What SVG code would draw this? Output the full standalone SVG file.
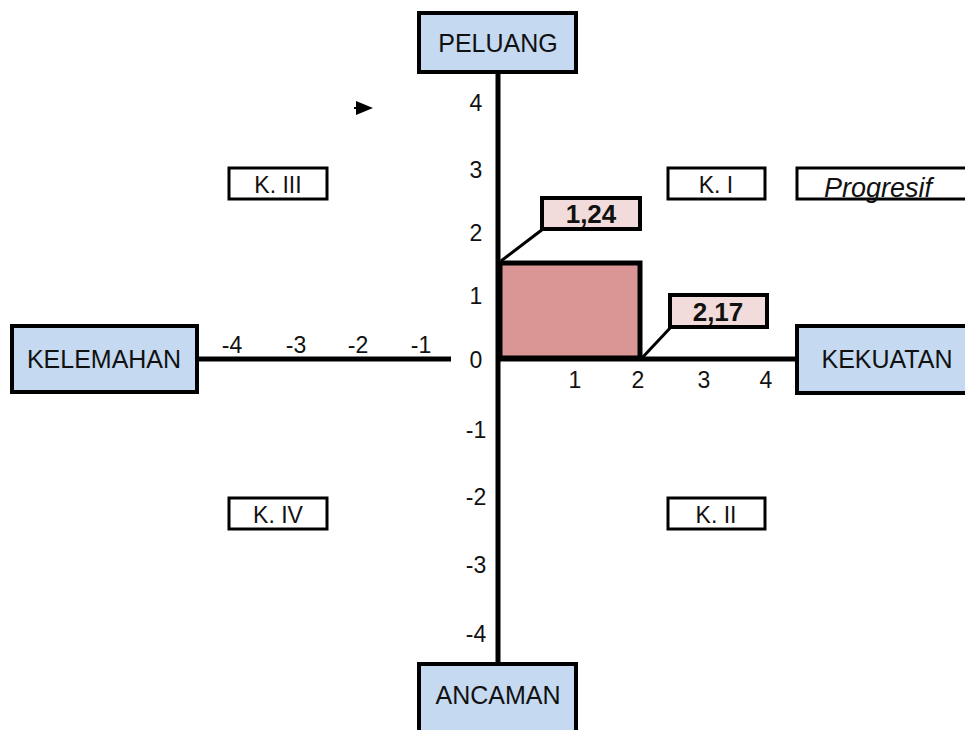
<svg xmlns="http://www.w3.org/2000/svg" width="965" height="730" viewBox="0 0 965 730">
<style>
.box{fill:#c5d9f1;stroke:#000;stroke-width:4}
.q{fill:#fff;stroke:#000;stroke-width:3}
.val{fill:#f2dcdb;stroke:#000;stroke-width:4}
.t{font-family:"Liberation Sans",Arial,sans-serif;font-size:25px;fill:#111;text-anchor:middle}
.n{font-family:"Liberation Sans",Arial,sans-serif;font-size:23px;fill:#111;text-anchor:middle}
.b{font-family:"Liberation Sans",Arial,sans-serif;font-size:26px;font-weight:bold;fill:#111;text-anchor:middle}
.ax{stroke:#000;stroke-width:5;fill:none}
</style>
<rect width="965" height="730" fill="#fff"/>
<g id="connectors">
<line class="ax" x1="498" y1="72" x2="498" y2="664"/>
<line class="ax" x1="197" y1="359" x2="451" y2="359"/>
<line class="ax" x1="498" y1="359" x2="797" y2="359"/>
<line x1="501" y1="261" x2="543" y2="229" stroke="#000" stroke-width="3"/>
<line x1="642" y1="358" x2="671" y2="327" stroke="#000" stroke-width="3"/>
<line x1="354" y1="108" x2="360" y2="108" stroke="#000" stroke-width="2"/>
<polygon points="356,101 373,108 356,115" fill="#000"/>
</g>
<g id="area"><rect x="500" y="263" width="140" height="95" fill="#d99694" stroke="#000" stroke-width="5"/></g>
<g id="peluang"><rect class="box" x="419" y="13" width="157" height="59"/><text class="t" x="498" y="52">PELUANG</text></g>
<g id="ancaman"><rect class="box" x="419" y="664" width="157" height="80"/><text class="t" x="498" y="704">ANCAMAN</text></g>
<g id="kelemahan"><rect class="box" x="12" y="326" width="185" height="66"/><text class="t" x="104" y="368">KELEMAHAN</text></g>
<g id="kekuatan"><rect class="box" x="797" y="326" width="180" height="67"/><text class="t" x="887" y="368">KEKUATAN</text></g>
<g id="k3"><rect class="q" x="229" y="168" width="98" height="31"/><text class="n" x="278" y="193">K. III</text></g>
<g id="k1"><rect class="q" x="668" y="168" width="97" height="31"/><text class="n" x="716" y="193">K. I</text></g>
<g id="progresif"><rect class="q" x="797" y="168" width="175" height="31"/><text class="n" x="878" y="197" style="font-style:italic;font-size:27px">Progresif</text></g>
<g id="k4"><rect class="q" x="229" y="498" width="98" height="31"/><text class="n" x="278" y="523">K. IV</text></g>
<g id="k2"><rect class="q" x="668" y="498" width="97" height="31"/><text class="n" x="716" y="523">K. II</text></g>
<g id="v124"><rect class="val" x="542" y="198" width="98" height="31"/><text class="b" x="591" y="223">1,24</text></g>
<g id="v217"><rect class="val" x="670" y="295" width="97" height="32"/><text class="b" x="718" y="321">2,17</text></g>
<g id="ticks">
<text class="n" x="476" y="111">4</text>
<text class="n" x="476" y="178">3</text>
<text class="n" x="476" y="241">2</text>
<text class="n" x="476" y="304">1</text>
<text class="n" x="476" y="368">0</text>
<text class="n" x="476" y="438">-1</text>
<text class="n" x="476" y="505">-2</text>
<text class="n" x="476" y="573">-3</text>
<text class="n" x="476" y="642">-4</text>
<text class="n" x="232" y="353">-4</text>
<text class="n" x="296" y="353">-3</text>
<text class="n" x="358" y="353">-2</text>
<text class="n" x="421" y="353">-1</text>
<text class="n" x="575" y="388">1</text>
<text class="n" x="638" y="388">2</text>
<text class="n" x="704" y="388">3</text>
<text class="n" x="766" y="388">4</text>
</g>
</svg>
